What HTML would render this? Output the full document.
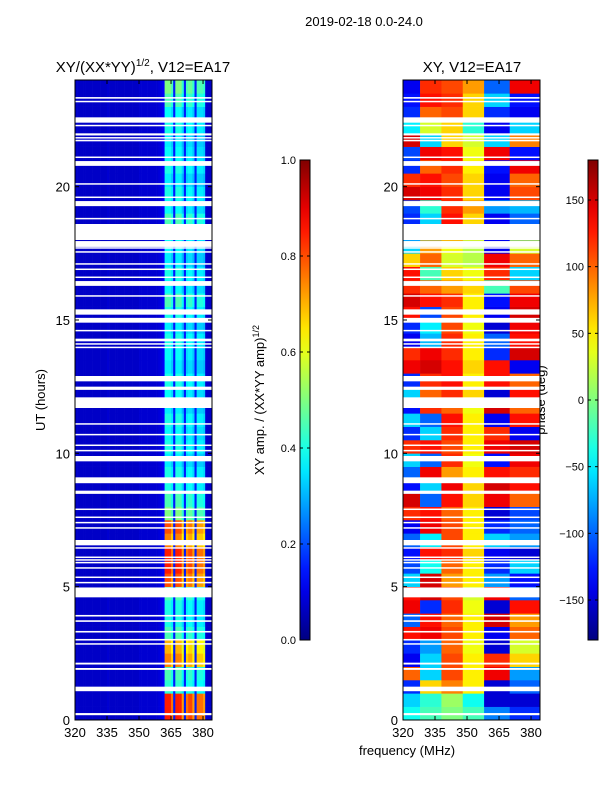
<!DOCTYPE html>
<html><head><meta charset="utf-8"><style>
body{margin:0;background:#fff;}
svg text{font-family:"Liberation Sans",sans-serif;fill:#000;}
</style></head><body>
<svg id="fig" width="600" height="800" viewBox="0 0 600 800" xmlns="http://www.w3.org/2000/svg">
<rect width="600" height="800" fill="#fff"/>
<text x="364" y="26" font-size="13" text-anchor="middle">2019-02-18 0.0-24.0</text>
<text x="143" y="72" font-size="15" text-anchor="middle">XY/(XX*YY)<tspan font-size="10" dy="-6">1/2</tspan><tspan dy="6">, V12=EA17</tspan></text>
<text x="472" y="72" font-size="15" text-anchor="middle">XY, V12=EA17</text>
<text x="407" y="755" font-size="13" text-anchor="middle">frequency (MHz)</text>
<text x="45" y="400" font-size="13" text-anchor="middle" transform="rotate(-90 45 400)">UT (hours)</text>
<text x="264" y="400" font-size="13" text-anchor="middle" transform="rotate(-90 264 400)">XY amp. / (XX*YY amp)<tspan font-size="9" dy="-5">1/2</tspan></text>
<text x="545" y="400" font-size="13" text-anchor="middle" transform="rotate(-90 545 400)">phase (deg)</text>
<g id="left"></g>
<g id="right"></g>
<g id="axes"></g>
</svg>
<script>
const NS="http://www.w3.org/2000/svg";
// ---- data ----
const freqTicks=[320,335,350,365,380];
const timeTicks=[0,5,10,15,20];
const ampTicks=[0.0,0.2,0.4,0.6,0.8,1.0];
const phaseTicks=[-150,-100,-50,0,50,100,150];
// amplitude spectral profile, 1 MHz bins from 320 to 384
const ampProfile=[0.07,0.07,0.07,0.07,0.07,0.07,0.07,0.07,0.07,0.07,0.07,0.07,0.07,0.07,0.07,0.08,0.07,0.07,0.07,0.07,0.07,0.07,0.07,0.07,0.07,0.07,0.07,0.07,0.07,0.07,0.08,0.08,0.08,0.08,0.08,0.08,0.08,0.08,0.08,0.09,0.10,0.12,1.0,1.0,1.0,0.9,0.15,1.0,1.0,1.0,0.85,0.15,0.9,0.95,0.95,0.85,0.15,0.9,0.9,0.9,0.85,0.08,0.07,0.07];
// band amplitude per half-hour row (0h -> 24h)
const ampRows=[0.85,0.85,0.42,0.45,0.75,0.7,0.45,0.4,0.4,0.45,0.8,0.85,0.85,0.75,0.8,0.5,0.45,0.4,0.4,0.36,0.4,0.38,0.4,0.36,0.38,0.4,0.36,0.38,0.4,0.36,0.4,0.45,0.38,0.4,0.36,0.38,0.4,0.45,0.38,0.4,0.36,0.4,0.38,0.36,0.4,0.38,0.45,0.5];
// phase zones (MHz edges) and phase per half-hour row per zone
const phaseZones=[320,328,338,348,358,370,384];
const phaseRows=[
[-40,-20,0,-20,-90,-120],[-60,-30,10,-40,-150,-150],
[-120,60,90,50,-150,-100],[100,-60,110,50,140,-80],
[-140,-60,110,50,120,60],[-120,-80,100,40,-150,30],
[130,140,110,50,-140,100],[-100,130,100,50,150,80],
[140,-120,120,40,-150,130],[130,150,110,30,140,-100],
[-60,150,80,50,-80,-130],[-110,-40,100,50,-120,-60],
[-130,130,120,60,-140,-150],[-100,-50,110,50,-60,-80],
[-140,140,110,50,-120,-100],[120,130,100,50,-150,-110],
[150,-100,130,60,140,100],[-130,-60,140,60,150,130],
[-100,140,80,50,130,120],[-60,-100,120,40,-130,140],
[120,130,110,50,140,150],[-120,-60,120,50,120,-140],
[-60,-100,130,50,-140,130],[-130,120,100,40,150,100],
[-60,100,120,60,-150,130],[-120,120,130,50,130,100],
[140,150,130,60,130,-140],[120,140,120,50,-120,150],
[-140,-70,120,50,-100,130],[-120,-50,110,40,-150,140],
[130,-110,110,50,-140,150],[150,130,120,50,-130,140],
[120,100,80,60,-20,110],[130,-20,60,40,120,-60],
[60,100,30,20,140,100],[-60,80,40,20,-140,30],
[-120,-60,130,60,-140,-100],[-120,-60,130,60,-140,-100],
[-110,-30,120,80,-80,-70],[150,140,120,60,-140,110],
[120,130,110,60,-140,100],[-120,100,120,50,-130,140],
[-110,140,130,40,140,-130],[150,-60,60,30,-60,90],
[-50,30,60,-30,-140,-60],[-120,100,110,60,-120,-140],
[-130,130,120,60,-60,-130],[-140,120,110,80,-100,140]];
// flagged (white) time ranges in hours
const gaps=[[0.18,0.26],[1.08,1.25],[1.88,1.95],[2.08,2.15],[2.83,2.88],[2.98,3.04],[3.28,3.34],[3.68,3.74],[3.88,3.94],[4.6,4.97],[5.13,5.18],[5.33,5.38],[5.68,5.73],[5.88,5.93],[5.98,6.03],[6.08,6.13],[6.43,6.48],[6.55,6.75],[7.18,7.23],[7.38,7.43],[7.58,7.63],[7.88,7.93],[8.48,8.6],[8.88,9.1],[9.7,9.9],[10.08,10.13],[10.28,10.33],[10.68,10.73],[11.08,11.13],[11.7,12.1],[12.38,12.5],[12.7,12.9],[13.95,14.0],[14.08,14.13],[14.2,14.3],[14.58,14.63],[14.9,15.08],[15.2,15.4],[15.88,15.93],[16.28,16.46],[16.58,16.63],[16.88,16.93],[17.08,17.13],[17.53,17.58],[17.68,17.73],[17.74,17.96],[18.0,18.6],[18.78,18.83],[19.27,19.46],[19.58,19.63],[20.08,20.13],[20.78,20.96],[21.08,21.13],[21.7,21.76],[21.82,21.86],[21.92,22.0],[22.28,22.32],[22.4,22.6],[23.18,23.22],[23.3,23.36]];
// ---- scales ----
const L={x0:75,x1:212},R={x0:403,x1:540},Y0=720,Y1=80;
const fMin=320,fMax=384.2;
function xs(p,f){return p.x0+(f-fMin)/(fMax-fMin)*(p.x1-p.x0);}
function ys(h){return Y0-(h/24)*(Y0-Y1);}
function jet(v){v=Math.max(0,Math.min(1,v));const c=t=>Math.round(255*Math.max(0,Math.min(1,1.5-Math.abs(4*v-t))));return `rgb(${c(3)},${c(2)},${c(1)})`;}
function mk(tag,attrs,parent){const e=document.createElementNS(NS,tag);for(const k in attrs)e.setAttribute(k,attrs[k]);parent.appendChild(e);return e;}
const gl=document.getElementById('left'),gr=document.getElementById('right'),ga=document.getElementById('axes');
for(let t=0;t<ampRows.length;t++){
  const ya=ys((t+1)*0.5),yb=ys(t*0.5);
  for(let i=0;i<ampProfile.length;i++){
    const p=ampProfile[i];const v=p<0.3?p:p*ampRows[t];
    const xa=xs(L,fMin+i),xb=xs(L,Math.min(fMin+i+1,fMax));
    const r=mk('rect',{x:xa,y:ya,width:xb-xa+0.3,height:yb-ya+0.3,fill:jet(v)},gl);
    
    
  }
}
for(let t=0;t<phaseRows.length;t++){
  const ya=ys((t+1)*0.5),yb=ys(t*0.5);
  for(let z=0;z<phaseZones.length-1;z++){
    const xa=xs(R,phaseZones[z]),xb=xs(R,Math.min(phaseZones[z+1],fMax));
    const v=(phaseRows[t][z]+180)/360;
    const r=mk('rect',{x:xa,y:ya,width:xb-xa+0.3,height:yb-ya+0.3,fill:jet(v)},gr);
    
    
  }
}
for(const g of gaps){for(const P of [L,R]){
  const r=mk('rect',{x:P.x0,y:ys(g[1]),width:P.x1-P.x0,height:Math.max(1.5,ys(g[0])-ys(g[1])),fill:'#fff'},ga);
  
  
}}
for(const P of [L,R]){
  const f=mk('rect',{x:P.x0,y:Y1,width:P.x1-P.x0,height:Y0-Y1,fill:'none',stroke:'#000','stroke-width':1},ga);
  
  
  for(const v of freqTicks){const x=xs(P,v);
    mk('line',{x1:x,x2:x,y1:Y0,y2:Y0-4,stroke:'#000'},ga);mk('line',{x1:x,x2:x,y1:Y1,y2:Y1+4,stroke:'#000'},ga);
    const tx=mk('text',{x:x,y:Y0+17,'font-size':13,'text-anchor':'middle'},ga);tx.textContent=v;
    
    }
  for(const v of timeTicks){const y=ys(v);
    mk('line',{x1:P.x0,x2:P.x0+4,y1:y,y2:y,stroke:'#000'},ga);mk('line',{x1:P.x1,x2:P.x1-4,y1:y,y2:y,stroke:'#000'},ga);
    const tx=mk('text',{x:P.x0-5,y:y+5,'font-size':13,'text-anchor':'end'},ga);tx.textContent=v;
    
    }
}
function cbar(x,ticks,lo,hi,fmt,name){
  const id='g'+name;const d=mk('defs',{},ga);const lg=mk('linearGradient',{id:id,x1:0,y1:1,x2:0,y2:0},d);
  for(let i=0;i<=20;i++)mk('stop',{offset:i/20,'stop-color':jet(i/20)},lg);
  const r=mk('rect',{x:x,y:160,width:10,height:480,fill:`url(#${id})`,stroke:'#000'},ga);
  
  
  for(const v of ticks){const y=640-(v-lo)/(hi-lo)*480;
    mk('line',{x1:x,x2:x+3,y1:y,y2:y,stroke:'#000'},ga);mk('line',{x1:x+10,x2:x+7,y1:y,y2:y,stroke:'#000'},ga);
    const tx=mk('text',{x:x-4,y:y+4,'font-size':11,'text-anchor':'end'},ga);tx.textContent=fmt(v);
    
    }
}
cbar(300,ampTicks,0,1,v=>v.toFixed(1),'amp-colorbar');
cbar(588,phaseTicks,-180,180,v=>(v<0?'\u2212'+(-v):''+v),'phase-colorbar');
</script>
</body></html>
